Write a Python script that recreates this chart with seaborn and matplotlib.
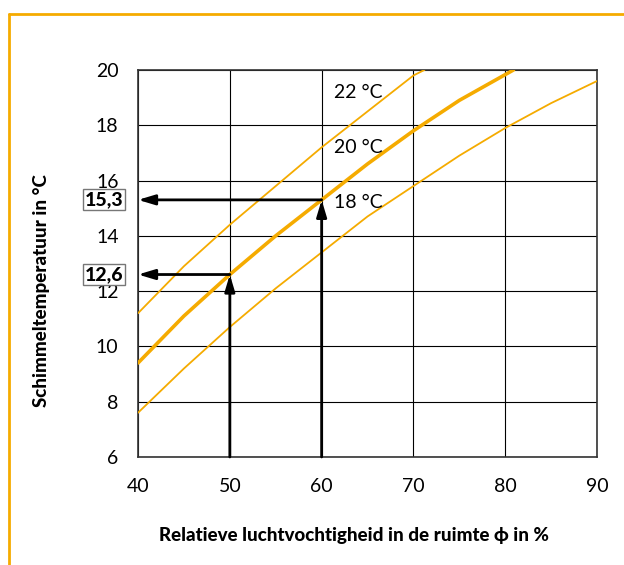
import numpy as np
import pandas as pd
import seaborn as sns
import matplotlib.pyplot as plt
from matplotlib.lines import Line2D

# Data
hum_22 = [40, 45, 50, 55, 60, 65, 70, 71.2]
temp_22 = [11.2, 12.9, 14.4, 15.8, 17.2, 18.5, 19.8, 20.0]
hum_20 = [40, 45, 50, 55, 60, 65, 70, 75, 80.9]
temp_20 = [9.4, 11.1, 12.6, 14.0, 15.3, 16.6, 17.8, 18.9, 20.0]
hum_18 = [40, 45, 50, 55, 60, 65, 70, 75, 80, 85, 90]
temp_18 = [7.6, 9.2, 10.7, 12.1, 13.4, 14.7, 15.8, 16.9, 17.9, 18.8, 19.6]
curve_labels = ['22 °C', '20 °C', '18 °C']
label_pos_y = [19.2, 17.2, 15.22]
marked_hum = [50, 60]
marked_temp = [12.6, 15.3]
marked_text = ['12,6', '15,3']
x_ticks = [40, 50, 60, 70, 80, 90]
y_ticks = [6, 8, 10, 12, 14, 16, 18, 20]

sns.set_style('white')
plt.rcParams['font.family'] = ['Lato', 'DejaVu Sans']
plt.rcParams['text.color'] = 'black'
plt.rcParams['axes.labelcolor'] = 'black'
plt.rcParams['xtick.color'] = 'black'
plt.rcParams['ytick.color'] = 'black'

ORANGE = '#F5AB00'

fig = plt.figure(figsize=(6.24, 5.65), dpi=100)
ax = fig.add_axes([0.2212, 0.1912, 0.7356, 0.6850])

df = pd.concat([
    pd.DataFrame({'phi': hum_22, 'T': temp_22, 'curve': '22'}),
    pd.DataFrame({'phi': hum_20, 'T': temp_20, 'curve': '20'}),
    pd.DataFrame({'phi': hum_18, 'T': temp_18, 'curve': '18'}),
])
for c, lw in [('22', 1.3), ('20', 2.6), ('18', 1.3)]:
    sub = df[df['curve'] == c]
    sns.lineplot(data=sub, x='phi', y='T', ax=ax, color=ORANGE, linewidth=lw,
                 sort=False, estimator=None, zorder=3)

ax.set_xlim(40, 90)
ax.set_ylim(6, 20)
ax.set_xticks(x_ticks)
ax.set_yticks(y_ticks)
ax.grid(True, color='black', linewidth=0.8)
ax.set_axisbelow(True)
for s in ax.spines.values():
    s.set_color('#333333')
    s.set_linewidth(1.2)
ax.tick_params(axis='both', length=0, labelsize=14)
ax.tick_params(axis='y', pad=14)
ax.tick_params(axis='x', pad=15)

ax.set_xlabel('Relatieve luchtvochtigheid in de ruimte ϕ in %', fontsize=13.5,
              fontweight='black')
ax.xaxis.set_label_coords(0.4706, -0.18)
ax.set_ylabel('Schimmeltemperatuur in °C', fontsize=13.5, fontweight='black')
ax.yaxis.set_label_coords(-0.192, 0.43)

for lab, yy in zip(curve_labels, label_pos_y):
    ax.text(61.4, yy, lab, fontsize=14, va='center', ha='left')

# arrows
for h, t, txt in zip(marked_hum, marked_temp, marked_text):
    ax.annotate('', xy=(h, t), xytext=(h, 6),
                arrowprops=dict(arrowstyle='-|>,head_length=1.0,head_width=0.3',
                                color='black', lw=2, shrinkA=0, shrinkB=0),
                zorder=5)
    ax.annotate('', xy=(40, t), xytext=(h, t),
                arrowprops=dict(arrowstyle='-|>,head_length=1.0,head_width=0.3',
                                color='black', lw=2, shrinkA=0, shrinkB=0),
                zorder=5)
    ax.text(36.3, t, txt, fontsize=14, fontweight='black', ha='center', va='center',
            clip_on=False,
            bbox=dict(boxstyle='square,pad=0.1', facecolor='white',
                      edgecolor='#777777', linewidth=1))

# orange frame
fig.add_artist(Line2D([9 / 624, 1], [1 - 14 / 565, 1 - 14 / 565], color=ORANGE, lw=2))
fig.add_artist(Line2D([9 / 624, 9 / 624], [0, 1 - 14 / 565], color=ORANGE, lw=2))

fig.savefig('out.png', dpi=100)
